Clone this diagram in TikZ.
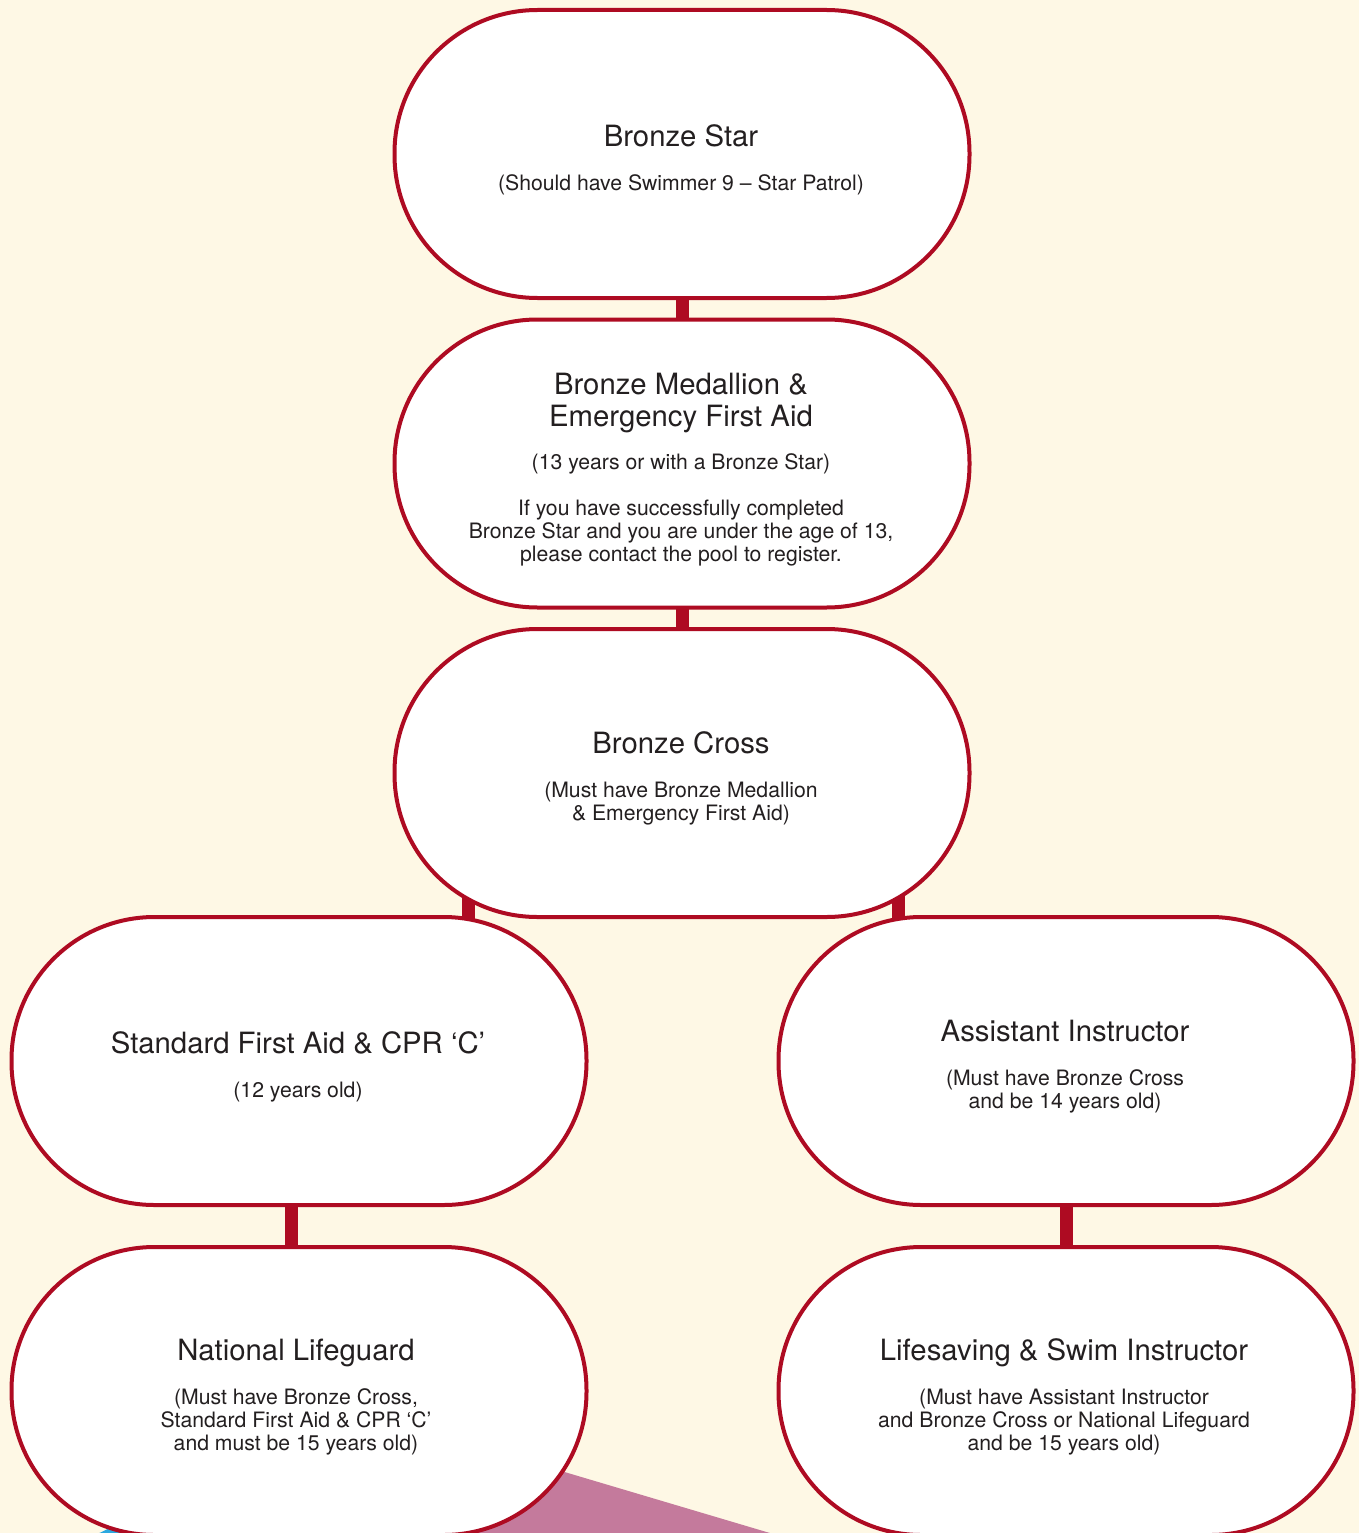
\documentclass[tikz,border=0pt]{standalone}
\usepackage{fontspec}
\setmainfont{TeX Gyre Heros}
\definecolor{lsred}{HTML}{AE0B22}
\definecolor{cream}{HTML}{FEF8E5}
\definecolor{ink}{HTML}{231F20}
\definecolor{pinkbg}{HTML}{C47A9C}
\definecolor{bluebg}{HTML}{2BA8E0}
\begin{document}
\begin{tikzpicture}[x=1pt,y=-1pt,
  box/.style={draw=lsred, line width=4pt, fill=white, rounded corners=143pt,
    minimum width=575pt, minimum height=288pt, inner sep=0pt, outer sep=0pt},
  bar/.style={draw=lsred, line width=13pt},
  ttl/.style={font=\fontsize{29.3}{32}\selectfont, text=ink, align=center, anchor=north, inner sep=0pt},
  sub/.style={font=\fontsize{21.2}{23}\selectfont, text=ink, align=center, anchor=north, inner sep=0pt}]
\fill[cream] (0,0) rectangle (1359,1533);
\useasboundingbox (0,0) rectangle (1359,1533);
% background shapes at the bottom
\fill[pinkbg] (440,1435) -- (780,1536) -- (400,1540) -- cycle;
\fill[bluebg] (85,1540) -- (118,1524) -- (150,1540) -- cycle;
% box positions
\path (682,154) coordinate (p1) (682,463.5) coordinate (p2) (682,773) coordinate (p3)
      (299,1061) coordinate (p4) (1066,1061) coordinate (p5)
      (299,1391) coordinate (p6) (1066,1391) coordinate (p7);
% connectors (behind boxes)
\draw[bar] (p1) -- (p2);
\draw[bar] (p2) -- (p3);
\draw[bar] ([xshift=-214pt,yshift=40pt]p3 |- 0,917) -- ([xshift=169pt]p4);
\draw[bar] ([xshift=216pt,yshift=40pt]p3 |- 0,917) -- ([xshift=-168pt]p5);
\draw[bar] ([xshift=-8pt]p4) -- ([xshift=-8pt]p6);
\draw[bar] (p5) -- (p7);
% boxes
\node[box] (b1) at (p1) {};
\node[box] (b2) at (p2) {};
\node[box] (b3) at (p3) {};
\node[box] (b4) at (p4) {};
\node[box] (b5) at (p5) {};
\node[box] (b6) at (p6) {};
\node[box] (b7) at (p7) {};
% texts
\node[ttl] (t1) at (681,124.1) {\strut Bronze Star};
\node[sub] (s1) at (681,174.4) {\strut (Should have Swimmer 9 – Star Patrol)};
\node[ttl] (t2) at (681,372.1) {\strut Bronze Medallion \&\\Emergency First Aid};
\node[sub] (s2) at (681,453.4) {\strut (13 years or with a Bronze Star)};
\node[sub] (q2) at (681,499.4) {\strut If you have successfully completed\\Bronze Star and you are under the age of 13,\\please contact the pool to register.};
\node[ttl] (t3) at (681,731.1) {\strut Bronze Cross};
\node[sub] (s3) at (681,781.4) {\strut (Must have Bronze Medallion\\\& Emergency First Aid)};
\node[ttl] (t4) at (298,1031.1) {\strut Standard First Aid \& CPR ‘C’};
\node[sub] (s4) at (298,1081.4) {\strut (12 years old)};
\node[ttl] (t5) at (1065,1019.1) {\strut Assistant Instructor};
\node[sub] (s5) at (1065,1069.4) {\strut (Must have Bronze Cross\\and be 14 years old)};
\node[ttl] (t6) at (296,1338.1) {\strut National Lifeguard};
\node[sub] (s6) at (296,1388.4) {\strut (Must have Bronze Cross,\\Standard First Aid \& CPR ‘C’\\and must be 15 years old)};
\node[ttl] (t7) at (1064,1338.1) {\strut Lifesaving \& Swim Instructor};
\node[sub] (s7) at (1064,1388.4) {\strut (Must have Assistant Instructor\\and Bronze Cross or National Lifeguard\\and be 15 years old)};
\end{tikzpicture}
\end{document}
